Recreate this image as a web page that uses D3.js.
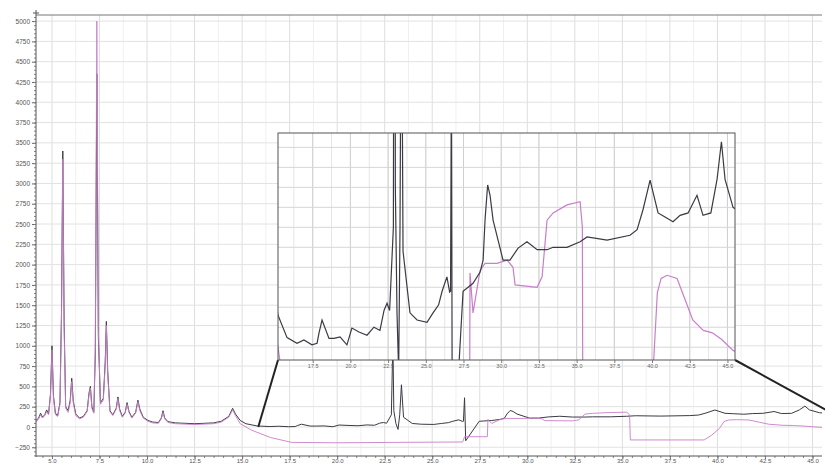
<!DOCTYPE html>
<html>
<head>
<meta charset="utf-8">
<script src="https://cdn.jsdelivr.net/npm/d3@7"></script>
<style>
  html, body { margin: 0; padding: 0; background: #fff; }
  svg { display: block; font-family: "Liberation Sans", Arial, sans-serif; }
</style>
</head>
<body>
<svg id="chart" width="825" height="465"></svg>
<script>
// Diffraction patterns, 2θ (deg) vs intensity (counts)
const darkTwoTheta = [4.16,4.3,4.4,4.5,4.62,4.72,4.82,4.92,5.0,5.08,5.18,5.3,5.42,5.5,5.57,5.64,5.72,5.85,5.96,6.04,6.12,6.25,6.45,6.65,6.85,6.95,7.02,7.1,7.2,7.28,7.36,7.44,7.55,7.7,7.8,7.86,7.93,8.05,8.2,8.38,8.47,8.56,8.7,8.85,8.95,9.05,9.2,9.4,9.52,9.62,9.8,10.05,10.3,10.6,10.75,10.84,10.93,11.1,11.5,12.0,12.5,13.0,13.5,13.9,14.3,14.5,14.65,14.9,15.2,15.8,16.46,16.92,17.45,17.79,17.92,18.12,18.58,18.91,19.31,19.77,20.1,20.57,21.1,21.56,21.96,22.23,22.43,22.6,22.85,22.93,22.98,23.09,23.2,23.29,23.38,23.49,23.95,24.42,25.08,25.48,25.85,26.08,26.4,26.58,26.64,26.7,26.76,27.47,28.13,28.6,28.8,28.93,29.1,29.26,29.46,30.12,30.58,31.12,31.71,32.38,33.04,33.44,34.36,35.23,35.69,37.02,38.54,39.01,39.4,39.87,40.4,40.86,41.39,41.86,42.39,42.98,43.38,43.9,44.31,44.6,44.84,45.37,45.6];
const darkCounts = [80,110,170,120,150,210,160,400,1000,380,170,140,300,1400,3400,1300,250,200,330,600,320,160,110,130,200,420,500,250,180,900,4350,1100,300,350,800,1300,700,200,150,230,370,220,130,180,300,190,120,180,330,220,120,80,60,55,110,200,110,65,50,45,40,45,50,70,130,230,160,80,40,12,5,9,3,5,18,34,11,11,13,3,24,19,15,25,21,46,55,46,150,1070,200,43,-30,150,520,120,43,34,31,43,53,70,88,69,70,360,-170,70,80,94,109,160,203,190,159,109,109,124,132,122,122,125,125,132,138,134,140,147,172,209,168,163,157,165,168,190,165,168,210,257,210,175,172,172];

const pinkTwoTheta = [4.16,4.3,4.4,4.5,4.62,4.72,4.82,4.92,5.0,5.08,5.18,5.3,5.42,5.5,5.57,5.64,5.72,5.85,5.96,6.04,6.12,6.25,6.45,6.65,6.85,6.95,7.02,7.1,7.2,7.28,7.36,7.44,7.55,7.7,7.8,7.86,7.93,8.05,8.2,8.38,8.47,8.56,8.7,8.85,8.95,9.05,9.2,9.4,9.52,9.62,9.8,10.05,10.3,10.6,10.75,10.84,10.93,11.1,11.5,12.0,12.5,13.0,13.5,13.9,14.3,14.5,14.65,14.9,15.5,16.5,17.6,20,23,26.6,26.7,27.9,27.93,28.13,28.6,28.93,29.72,30.39,30.78,30.92,32.38,32.71,33.04,33.44,34.36,35.23,35.38,35.42,39.3,39.7,40.1,40.35,40.6,41.0,41.66,42.2,42.7,43.4,44.0,44.6,45.37,45.6];
const pinkCounts = [60,100,150,110,140,190,150,380,950,350,150,130,280,1300,3300,1200,230,180,300,560,300,140,100,120,190,400,480,230,170,1000,5000,1200,280,330,760,1250,650,190,140,220,350,200,120,170,280,180,110,170,310,200,110,70,50,45,100,180,100,55,40,35,30,35,40,60,120,210,140,40,-40,-130,-190,-195,-190,-185,-120,-120,93,43,96,105,105,109,100,78,75,88,159,168,178,182,150,-160,-160,-100,-20,68,86,90,86,59,34,21,18,10,-4,-6];

// Axis tick values
const xTicks = d3.range(5, 45.01, 2.5);
const yTicks = d3.range(-250, 5001, 250);
const insetTicks = d3.range(17.5, 45.01, 2.5);
const insetYGrid = d3.range(0, 268, 25);
// Region magnified in the inset, as (2θ, counts) endpoints on the main plot
const zoomStart = [15.85, 0];
const zoomEnd = [45.7, 210];

const darkData = darkTwoTheta.map((t, i) => [t, darkCounts[i]]);
const pinkData = pinkTwoTheta.map((t, i) => [t, pinkCounts[i]]);

const svg = d3.select("#chart");
const W = 825, H = 465;
svg.append("rect").attr("width", W).attr("height", H).attr("fill", "#fff");

const xMain = d3.scaleLinear().domain([4.16, 45.5]).range([36, 822]);
const yMain = d3.scaleLinear().domain([-370, 5075]).range([457, 15]);
const xIn = d3.scaleLinear().domain([15.2, 45.5]).range([278, 735]);
const yIn = d3.scaleLinear().domain([-16, 268]).range([360, 133]);

const DARK = "#3a3a44", PINK = "#c97ec9";

// ---- main grid ----
const grid = svg.append("g");
grid.selectAll(".vmin").data(d3.range(6.25, 45.5, 2.5)).join("line")
  .attr("x1", d => xMain(d)).attr("x2", d => xMain(d))
  .attr("y1", 15).attr("y2", 457).attr("stroke", "#f0f0f0");
grid.selectAll(".vmaj").data(xTicks).join("line")
  .attr("x1", d => xMain(d)).attr("x2", d => xMain(d))
  .attr("y1", 15).attr("y2", 457).attr("stroke", "#dedede");
grid.selectAll(".hmaj").data(yTicks).join("line")
  .attr("x1", 36).attr("x2", 822)
  .attr("y1", d => yMain(d)).attr("y2", d => yMain(d)).attr("stroke", "#e2e2e2");

// top frame line
svg.append("line").attr("x1", 36).attr("x2", 822).attr("y1", 15).attr("y2", 15)
  .attr("stroke", "#777");

// ---- main curves ----
svg.append("clipPath").attr("id", "mainClip").append("rect")
  .attr("x", 36).attr("y", 15).attr("width", 786).attr("height", 442);
const lineMain = d3.line().x(d => xMain(d[0])).y(d => yMain(d[1]));
const gMain = svg.append("g").attr("clip-path", "url(#mainClip)");
gMain.append("path").datum(darkData).attr("d", lineMain)
  .attr("fill", "none").attr("stroke", DARK).attr("stroke-width", 1);
gMain.append("path").datum(pinkData).attr("d", lineMain)
  .attr("fill", "none").attr("stroke", PINK).attr("stroke-width", 1).attr("stroke-opacity", 0.9);

// ---- axes ----
const yAxis = d3.axisLeft(yMain).tickValues(yTicks).tickSize(4).tickFormat(d3.format("d"));
const gy = svg.append("g").attr("transform", "translate(36,0)").call(yAxis);
gy.selectAll(".tick line").attr("stroke", "#666");
gy.selectAll("text").attr("font-size", 6.5).attr("fill", "#555").attr("x", -6);
gy.select(".domain").remove();
svg.append("g").attr("transform", "translate(36,0)")
  .call(d3.axisLeft(yMain).tickValues(d3.range(-350, 5075, 50)).tickSize(2).tickFormat(""))
  .call(g => g.select(".domain").remove())
  .selectAll("line").attr("stroke", "#888");
svg.append("line").attr("x1", 36).attr("x2", 36).attr("y1", 10).attr("y2", 457)
  .attr("stroke", "#555");
svg.append("line").attr("x1", 33).attr("x2", 39).attr("y1", 13).attr("y2", 13)
  .attr("stroke", "#555");

const xAxis = d3.axisBottom(xMain).tickValues(xTicks).tickSize(3).tickFormat(d3.format(".1f"));
const gx = svg.append("g").attr("transform", "translate(0,456)").call(xAxis);
gx.select(".domain").remove();
gx.selectAll(".tick line").attr("stroke", "#666");
gx.selectAll("text").attr("font-size", 6).attr("fill", "#555").attr("y", 2.5);
svg.append("g").attr("transform", "translate(0,456)")
  .call(d3.axisBottom(xMain).tickValues(d3.range(4.5, 45.5, 0.5)).tickSize(2).tickFormat(""))
  .call(g => g.select(".domain").remove())
  .selectAll("line").attr("stroke", "#888");
svg.append("line").attr("x1", 36).attr("x2", 822).attr("y1", 456).attr("y2", 456)
  .attr("stroke", "#555");

// ---- connectors from the magnified region to the inset ----
svg.append("line")
  .attr("x1", xIn.range()[0]).attr("y1", yIn.range()[0])
  .attr("x2", xMain(zoomStart[0])).attr("y2", yMain(zoomStart[1]))
  .attr("stroke", "#222").attr("stroke-width", 2);
svg.append("line")
  .attr("x1", xIn.range()[1]).attr("y1", yIn.range()[0])
  .attr("x2", xMain(zoomEnd[0])).attr("y2", yMain(zoomEnd[1]))
  .attr("stroke", "#222").attr("stroke-width", 2);

// ---- inset ----
const inset = svg.append("g");
inset.append("rect").attr("x", 278).attr("y", 133).attr("width", 457).attr("height", 227)
  .attr("fill", "#fff");
inset.selectAll(".ivmin").data(d3.range(16.25, 45.5, 1.25)).join("line")
  .attr("x1", d => xIn(d)).attr("x2", d => xIn(d))
  .attr("y1", 133).attr("y2", 360).attr("stroke", "#e6e6e6");
inset.selectAll(".ivmaj").data(insetTicks).join("line")
  .attr("x1", d => xIn(d)).attr("x2", d => xIn(d))
  .attr("y1", 133).attr("y2", 360).attr("stroke", "#cfcfcf");
inset.selectAll(".ih").data(insetYGrid).join("line")
  .attr("x1", 278).attr("x2", 735)
  .attr("y1", d => yIn(d)).attr("y2", d => yIn(d)).attr("stroke", "#d6d6d6");

svg.append("clipPath").attr("id", "insetClip").append("rect")
  .attr("x", 278).attr("y", 133).attr("width", 457).attr("height", 227);
const lineIn = d3.line().x(d => xIn(d[0])).y(d => yIn(d[1]));
const gIn = inset.append("g").attr("clip-path", "url(#insetClip)");
gIn.append("path").datum(pinkData).attr("d", lineIn)
  .attr("fill", "none").attr("stroke", PINK).attr("stroke-width", 1.2);
gIn.append("path").datum(darkData).attr("d", lineIn)
  .attr("fill", "none").attr("stroke", DARK).attr("stroke-width", 1.2);

inset.append("rect").attr("x", 278).attr("y", 133).attr("width", 457).attr("height", 227)
  .attr("fill", "none").attr("stroke", "#555").attr("stroke-width", 1);

const gix = inset.append("g").attr("transform", "translate(0,360)")
  .call(d3.axisBottom(xIn).tickValues(insetTicks).tickSize(3).tickFormat(d3.format(".1f")));
gix.select(".domain").remove();
gix.selectAll(".tick line").attr("stroke", "#777");
gix.selectAll("text").attr("font-size", 5.5).attr("fill", "#666").attr("y", 4);
</script>
</body>
</html>
